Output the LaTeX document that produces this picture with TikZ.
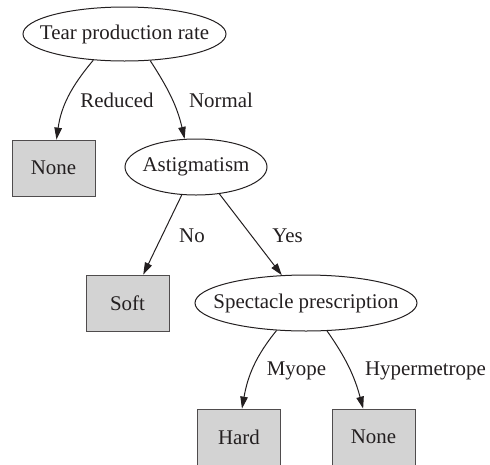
\documentclass[tikz,border=0pt]{standalone}
\usepackage{fontspec}
\setmainfont{Liberation Serif}
\usetikzlibrary{shapes.geometric,arrows.meta}
\definecolor{ink}{HTML}{231F20}
\definecolor{leafgray}{HTML}{D3D3D3}
\newcommand{\ctext}[1]{\makebox[0pt]{#1}}
\begin{document}
\begin{tikzpicture}[x=1pt,y=-1pt,
  every node/.style={text=ink,font=\fontsize{20.9}{24}\selectfont},
  decision/.style={ellipse,draw=ink,line width=1pt,inner sep=0pt},
  leaf/.style={rectangle,draw=ink!80,fill=leafgray,line width=0.8pt,minimum width=83pt,minimum height=56pt,inner sep=0pt},
  branch/.style={draw=ink,line width=1pt,-{Triangle[length=12pt,width=7.5pt]}},
  elabel/.style={anchor=base,inner sep=0pt}]
\useasboundingbox (0,0) rectangle (490,464);
% nodes
\node[decision,minimum width=203pt,minimum height=54pt] (tear) at (124.5,34) {\ctext{Tear production rate}};
\node[leaf] (none1) at (53.5,168) {None};
\node[decision,minimum width=142pt,minimum height=56pt] (astig) at (196,167) {\ctext{Astigmatism}};
\node[leaf] (soft) at (127.5,303) {Soft};
\node[decision,minimum width=222pt,minimum height=56pt] (spec) at (306,303) {\ctext{Spectacle prescription}};
\node[leaf] (hard) at (239,437) {Hard};
\node[leaf] (none2) at (373.5,437) {None};
% edges
\draw[branch] (tear.-140) to[out=-130,in=82] (none1.84);
\draw[branch] (tear.-46) to[out=-57,in=103] (astig.112);
\draw[branch] (astig.-117) -- (soft.61);
\draw[branch] (astig.-49) -- (spec.131);
\draw[branch] (spec.-137) to[out=-129,in=80] (hard.84);
\draw[branch] (spec.-53) to[out=-55,in=105] (none2.110);
% edge labels
\node[elabel] (lreduced) at (117,107) {Reduced};
\node[elabel] (lnormal) at (221,107) {Normal};
\node[elabel] (lno) at (192,242) {No};
\node[elabel] (lyes) at (287.5,242) {Yes};
\node[elabel] (lmyope) at (296.5,375) {Myope};
\node[elabel] (lhyper) at (425.5,375) {Hypermetrope};
\end{tikzpicture}
\end{document}
